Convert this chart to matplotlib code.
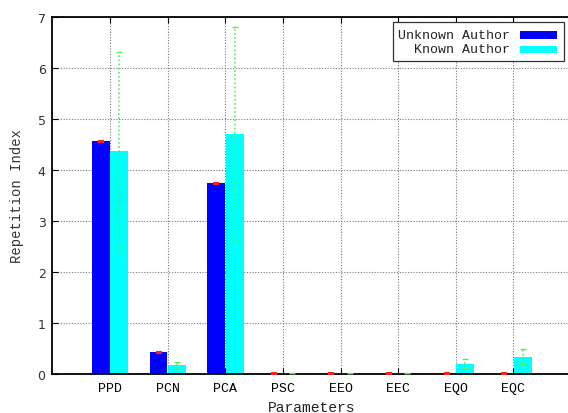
import matplotlib
matplotlib.use('Agg')
import matplotlib.pyplot as plt
from matplotlib.patches import Rectangle
import numpy as np

# categories and the two series (mean and deviation)
params = ['PPD', 'PCN', 'PCA', 'PSC', 'EEO', 'EEC', 'EQO', 'EQC']
unknown = [4.56, 0.43, 3.74, 0, 0, 0, 0, 0]
unknown_err = [0.01, 0.01, 0.01, 0.01, 0.01, 0.01, 0.01, 0.01]
known = [4.36, 0.17, 4.70, 0, 0, 0, 0.20, 0.34]
known_err = [1.95, 0.07, 2.09, 0.01, 0.01, 0.01, 0.09, 0.14]
yticks = [0, 1, 2, 3, 4, 5, 6, 7]

mono = 'Liberation Mono'

fig = plt.figure(figsize=(5.68, 4.14), dpi=100)
ax = fig.add_axes([0.0924, 0.0942, 0.9131, 0.8633])

x = np.arange(1, len(params) + 1)
w = 0.31
off = 0.16

ax.bar(x - off, unknown, w, color='#0000ff', zorder=2)
ax.bar(x + off, known, w, color='#00ffff', zorder=2)

# error bars: red on unknown, dotted green on known
ax.errorbar(x - off, unknown, yerr=unknown_err, fmt='none', ecolor='#ff2020',
            elinewidth=1.5, capsize=2.2, capthick=1.5, zorder=3)
eb = ax.errorbar(x + off, known, yerr=known_err, fmt='none', ecolor='#55ee55',
                 elinewidth=1.1, capsize=2.2, capthick=1.0, zorder=3)
eb[2][0].set_linestyle((0, (1.2, 1.5)))

ax.set_xlim(0, 9)
ax.set_ylim(0, 7)
ax.set_xticks(x)
ax.set_xticklabels(params, fontfamily=mono, fontsize=9.5)
ax.set_yticks(yticks)
ax.set_yticklabels([str(t) for t in yticks], fontfamily='DejaVu Sans', fontsize=9, color='#333333')

ax.grid(True, color='#777777', linestyle=(0, (1, 1.5)), linewidth=0.8, zorder=0)
ax.set_axisbelow(True)
ax.tick_params(axis='both', direction='in', top=True, right=False, length=4, width=0.8)
ax.tick_params(axis='x', pad=6)
ax.tick_params(axis='y', pad=5)
for s in ax.spines.values():
    s.set_linewidth(1.3)
ax.spines['right'].set_visible(False)

ax.set_ylabel('Repetition Index', fontfamily=mono, fontsize=10, color='#333333', labelpad=10)
ax.set_xlabel('Parameters', fontfamily=mono, fontsize=10.5, color='#222222', labelpad=4)

# key box in the upper right, text right-justified with the sample after it
ax.add_patch(Rectangle((0.6556, 0.8753), 0.3310, 0.1108, transform=ax.transAxes,
                       facecolor='white', edgecolor='#333333', linewidth=0.9, zorder=4))
ax.text(0.882, 0.9488, 'Unknown Author', transform=ax.transAxes, ha='right', va='center',
        fontfamily=mono, fontsize=9.5, color='#222222', zorder=5)
ax.text(0.882, 0.9088, 'Known Author', transform=ax.transAxes, ha='right', va='center',
        fontfamily=mono, fontsize=9.5, color='#222222', zorder=5)
ax.add_patch(Rectangle((0.9014, 0.9387), 0.0715, 0.0205, transform=ax.transAxes,
                       facecolor='#0000ff', edgecolor='none', zorder=5))
ax.add_patch(Rectangle((0.9014, 0.8982), 0.0715, 0.0205, transform=ax.transAxes,
                       facecolor='#00ffff', edgecolor='none', zorder=5))

fig.savefig('out.png', dpi=100)
